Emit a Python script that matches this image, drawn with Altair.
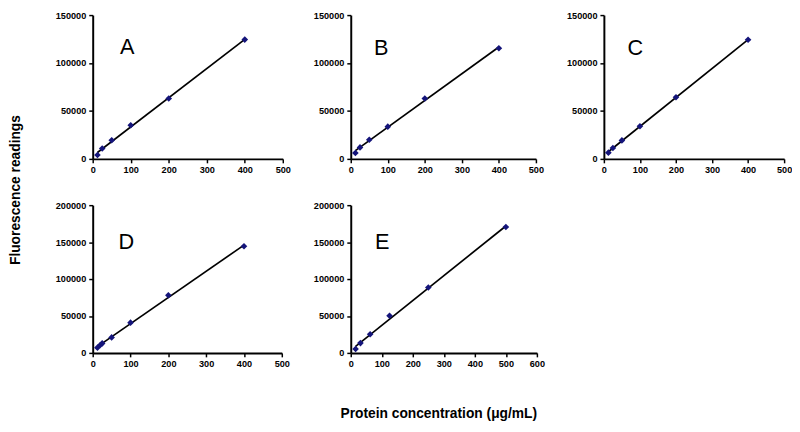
import altair as alt
import pandas as pd

# ---- data ----
A_x = [12.5, 25, 50, 100, 200, 400]
A_y = [4100, 10900, 19400, 35100, 63000, 124400]
B_x = [12.5, 25, 50, 100, 200, 400]
B_y = [6200, 12000, 19900, 33600, 63000, 115400]
C_x = [12.5, 25, 50, 100, 200, 400]
C_y = [6500, 11400, 19300, 34100, 64300, 124200]
D_x = [12.5, 20, 25, 50, 100, 200, 400]
D_y = [7100, 10700, 12900, 21000, 41000, 78000, 144300]
E_x = [15.625, 31.25, 62.5, 125, 250, 500]
E_y = [5300, 13300, 25200, 50400, 88500, 170400]

FONT = "Liberation Sans"
MARK_COLOR = "#14147a"


def axis(values):
    return alt.Axis(
        values=values, grid=False, title=None, format="d",
        labelFont=FONT, labelFontWeight="bold", labelFontSize=9.3, labelColor="black",
        domainColor="black", domainWidth=2, tickColor="black", tickWidth=1.5,
        tickSize=4, labelPadding=3, labelFlush=False, labelOverlap=False,
    )


def panel(xs, ys, letter, xmax, ymax, w, h, lx, ly):
    df = pd.DataFrame({"x": xs, "y": ys})
    xenc = alt.X("x:Q", scale=alt.Scale(domain=[0, xmax], nice=False),
                 axis=axis(list(range(0, xmax + 1, 100))))
    yenc = alt.Y("y:Q", scale=alt.Scale(domain=[0, ymax], nice=False),
                 axis=axis(list(range(0, ymax + 1, 50000))))
    base = alt.Chart(df)
    line = base.transform_regression("x", "y").mark_line(
        color="black", strokeWidth=1.7).encode(x=xenc, y=yenc)
    pts = base.mark_point(shape="diamond", filled=True, color=MARK_COLOR,
                          size=45, opacity=1).encode(x=xenc, y=yenc)
    lab = alt.Chart(pd.DataFrame({"t": [letter]})).mark_text(
        font=FONT, fontSize=22, align="center", baseline="alphabetic", color="black"
    ).encode(text="t:N", x=alt.value(lx), y=alt.value(ly))
    return alt.layer(line, pts, lab).properties(width=w, height=h)


pA = panel(A_x, A_y, "A", 500, 150000, 193, 146, 35, 40)
pB = panel(B_x, B_y, "B", 500, 150000, 188, 146, 31, 41)
pC = panel(C_x, C_y, "C", 500, 150000, 183, 146, 32, 41)
pD = panel(D_x, D_y, "D", 500, 200000, 192, 150, 34, 45)
pE = panel(E_x, E_y, "E", 600, 200000, 189, 150, 32, 45)

row1 = alt.hconcat(pA, pB, pC, spacing=22)
row2 = alt.hconcat(pD, pE, spacing=23)

grid = alt.vconcat(row1, row2, spacing=26).properties(
    title=alt.TitleParams("Fluorescence readings", orient="left", anchor="middle",
                          font=FONT, fontSize=14, fontWeight="bold", color="black",
                          offset=33)
)

chart = alt.vconcat(grid).properties(
    title=alt.TitleParams("Protein concentration (μg/mL)", orient="bottom",
                          anchor="middle", font=FONT, fontSize=14, fontWeight="bold",
                          color="black", offset=39, dx=39),
    padding={"left": 0, "top": 0, "right": 0, "bottom": 0},
).configure_view(stroke=None)

chart.save("out.html", embed_options={"renderer": "svg", "actions": False})
